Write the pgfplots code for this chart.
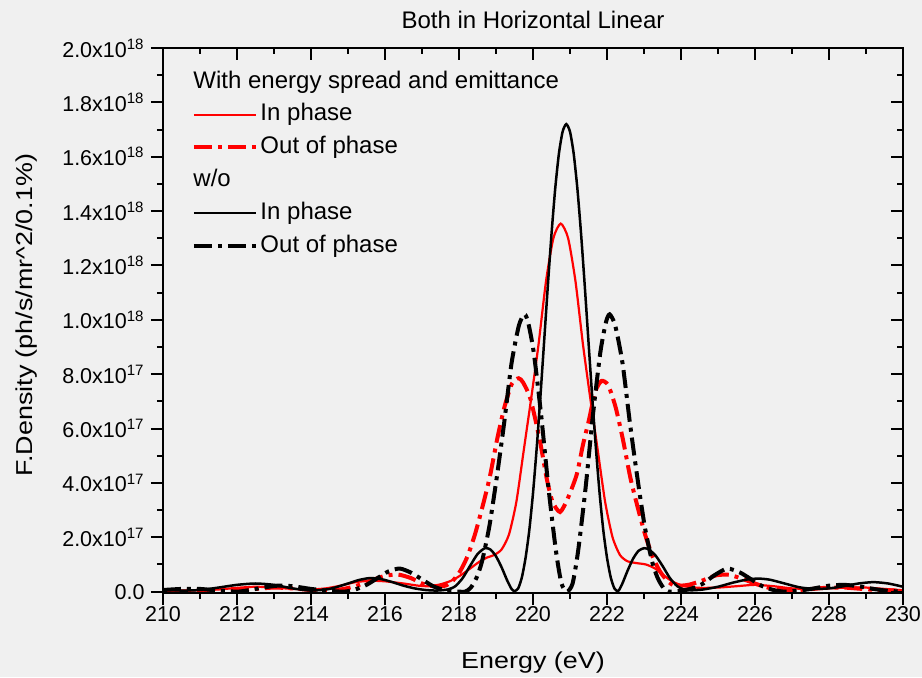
\documentclass[border=0pt]{standalone}
\usepackage{pgfplots}
\pgfplotsset{compat=1.18}
\usepackage{fontspec}
\setmainfont{Liberation Sans}
\definecolor{bggray}{RGB}{240,240,240}
\definecolor{pred}{RGB}{255,0,0}
\begin{document}
\begin{tikzpicture}
\fill[bggray] (-81.5pt,-42pt) rectangle (379.5pt,296.5pt);
\pgfplotsset{
  common/.style={
    at={(0,0)}, anchor=south west,
    scale only axis, width=370pt, height=272.5pt,
    xmin=210, xmax=230, ymin=-0.005, ymax=2.0,
    xtick={210,212,214,216,218,220,222,224,226,228,230},
    ytick={0,0.2,0.4,0.6,0.8,1.0,1.2,1.4,1.6,1.8,2.0},
    minor x tick num=1, minor y tick num=1,
    major tick length=6pt, minor tick length=3pt,
    axis line style={line width=1pt, black},
    every tick/.style={line width=1pt, black},
    clip=true,
  }
}
\begin{axis}[common,
  xtick pos=bottom, ytick pos=left, tick align=outside,
  /pgf/number format/assume math mode=true,
  ticklabel style={font=\fontsize{10.75}{12}\selectfont},
  xticklabel style={inner sep=0pt, yshift=-0.5pt},
  yticklabel style={inner xsep=3pt},
  yticklabels={0.0, 2.0x10\textsuperscript{17}, 4.0x10\textsuperscript{17}, 6.0x10\textsuperscript{17}, 8.0x10\textsuperscript{17}, 1.0x10\textsuperscript{18}, 1.2x10\textsuperscript{18}, 1.4x10\textsuperscript{18}, 1.6x10\textsuperscript{18}, 1.8x10\textsuperscript{18}, 2.0x10\textsuperscript{18}},
  title={Both in Horizontal Linear},
  title style={font=\fontsize{12}{14}\selectfont, at={(axis description cs:0.5,1.0367)}, anchor=base, yshift=-6pt},
  xlabel={\scalebox{1.17}[1]{Energy (eV)}},
  xlabel style={font=\fontsize{11.5}{14}\selectfont, at={(axis description cs:0.5,-0.1376)}, anchor=base},
  ylabel={\scalebox{1.17}[1]{F.Density (ph/s/mr\textasciicircum 2/0.1\%)}},
  ylabel style={font=\fontsize{11.5}{14}\selectfont, at={(axis description cs:-0.177,0.51)}, anchor=base},
  legend style={at={(rel axis cs:0,1)}, anchor=north west, xshift=14.5pt, yshift=-11.3pt,
    draw=none, fill=none, inner sep=0pt, outer sep=0pt,
    font=\fontsize{12}{14}\selectfont,
    nodes={inner ysep=0pt, inner xsep=1.25pt, text height=8.7pt, text depth=2.5pt},
    row sep=5.2pt},
  legend cell align=left,
  legend image code/.code={\draw[#1] (0pt,0pt) -- (31pt,0pt);},
]
\addlegendimage{empty legend}
\addlegendentry{\makebox[0pt][l]{\hspace*{-33.5pt}With energy spread and emittance}}

\addplot[pred, line width=1.1pt, smooth, tension=0.4] coordinates {
(210.0,0.004) (210.5,0.004) (211.0,0.005) (211.5,0.008) (212.0,0.014) (212.5,0.018) (213.0,0.015) (213.5,0.01) (214.0,0.008) (214.4,0.012) (214.8,0.022) (215.2,0.035) (215.6,0.04) (216.0,0.038) (216.5,0.03) (216.9,0.022) (217.2,0.02) (217.5,0.027) (217.75,0.038) (217.95,0.052) (218.15,0.07) (218.35,0.09) (218.55,0.11) (218.75,0.125) (218.95,0.135) (219.15,0.155) (219.35,0.21) (219.55,0.33) (219.75,0.52) (219.95,0.71) (220.15,0.91) (220.35,1.14) (220.55,1.30) (220.75,1.354) (220.95,1.30) (221.15,1.14) (221.35,0.91) (221.55,0.71) (221.75,0.52) (221.95,0.33) (222.15,0.2) (222.35,0.135) (222.55,0.112) (222.8,0.105) (223.05,0.10) (223.3,0.085) (223.55,0.058) (223.8,0.035) (224.1,0.02) (224.5,0.014) (225.0,0.015) (225.5,0.02) (226.0,0.025) (226.5,0.02) (227.0,0.012) (227.5,0.01) (228.0,0.012) (228.5,0.015) (229.0,0.015) (229.5,0.01) (230.0,0.005)
};
\addlegendentry{In phase}

\addplot[pred, line width=2pt, dash pattern=on 9pt off 3pt on 2pt off 3pt, smooth, tension=0.4] coordinates {
(210.0,0.003) (210.5,0.005) (211.0,0.006) (211.5,0.004) (212.0,0.005) (212.5,0.01) (213.0,0.015) (213.5,0.012) (214.0,0.006) (214.4,0.004) (214.8,0.008) (215.2,0.02) (215.6,0.04) (216.0,0.058) (216.35,0.063) (216.7,0.05) (217.0,0.03) (217.3,0.02) (217.63,0.022) (217.83,0.04) (218.03,0.075) (218.23,0.13) (218.43,0.21) (218.63,0.31) (218.83,0.42) (219.03,0.56) (219.23,0.68) (219.43,0.765) (219.61,0.785) (219.73,0.77) (219.93,0.71) (220.18,0.56) (220.38,0.41) (220.53,0.33) (220.73,0.293) (220.93,0.34) (221.18,0.43) (221.35,0.54) (221.51,0.63) (221.68,0.735) (221.85,0.775) (222.03,0.76) (222.23,0.68) (222.43,0.56) (222.63,0.42) (222.83,0.31) (223.03,0.21) (223.23,0.13) (223.43,0.075) (223.63,0.04) (223.83,0.022) (224.2,0.025) (224.6,0.042) (224.95,0.06) (225.3,0.062) (225.7,0.045) (226.1,0.025) (226.5,0.01) (226.9,0.005) (227.4,0.008) (227.9,0.014) (228.4,0.015) (228.9,0.01) (229.4,0.005) (230.0,0.004)
};
\addlegendentry{Out of phase}

\addlegendimage{empty legend}
\addlegendentry{\makebox[0pt][l]{\hspace*{-33.5pt}w/o}}

\addplot[black, line width=1.25pt, smooth, tension=0.4] coordinates {
(210.0,0.008) (210.5,0.004) (211.0,0.006) (211.5,0.015) (212.0,0.025) (212.5,0.03) (213.0,0.025) (213.5,0.012) (214.0,0.004) (214.5,0.01) (215.0,0.03) (215.3,0.043) (215.6,0.05) (215.9,0.046) (216.2,0.035) (216.5,0.022) (216.8,0.012) (217.1,0.006) (217.4,0.004) (217.7,0.008) (217.9,0.02) (218.1,0.05) (218.3,0.095) (218.5,0.138) (218.7,0.16) (218.85,0.155) (219.0,0.13) (219.15,0.09) (219.3,0.042) (219.42,0.01) (219.5,0.002) (219.6,0.012) (219.7,0.053) (219.8,0.125) (219.9,0.226) (220.0,0.362) (220.1,0.528) (220.2,0.717) (220.3,0.919) (220.4,1.123) (220.5,1.315) (220.6,1.482) (220.7,1.611) (220.8,1.692) (220.9,1.72) (221.0,1.692) (221.1,1.611) (221.2,1.482) (221.3,1.315) (221.4,1.123) (221.5,0.919) (221.6,0.717) (221.7,0.528) (221.8,0.362) (221.9,0.226) (222.0,0.125) (222.1,0.053) (222.2,0.012) (222.3,0.002) (222.4,0.025) (222.55,0.075) (222.7,0.12) (222.85,0.15) (223.0,0.16) (223.1,0.158) (223.3,0.135) (223.5,0.095) (223.7,0.05) (223.9,0.02) (224.1,0.007) (224.3,0.005) (224.6,0.008) (225.0,0.018) (225.4,0.033) (225.8,0.045) (226.1,0.048) (226.4,0.044) (226.8,0.03) (227.2,0.016) (227.6,0.01) (228.0,0.012) (228.4,0.02) (228.8,0.03) (229.2,0.035) (229.6,0.03) (230.0,0.018)
};
\addlegendentry{In phase}

\addplot[black, line width=2pt, dash pattern=on 9pt off 3pt on 2pt off 3pt, smooth, tension=0.4] coordinates {
(210.0,0.006) (210.5,0.01) (211.0,0.01) (211.5,0.004) (212.0,0.0) (212.3,0.005) (212.7,0.015) (213.1,0.022) (213.5,0.02) (214.0,0.01) (214.5,0.003) (214.9,0.0) (215.2,0.008) (215.5,0.025) (215.8,0.05) (216.1,0.075) (216.4,0.085) (216.7,0.07) (217.0,0.045) (217.3,0.02) (217.6,0.006) (217.9,0.001) (218.17,0.0) (218.32,0.015) (218.47,0.05) (218.62,0.11) (218.82,0.24) (219.02,0.42) (219.22,0.62) (219.42,0.84) (219.62,0.98) (219.77,1.02) (219.87,0.99) (220.02,0.88) (220.22,0.65) (220.42,0.38) (220.62,0.15) (220.77,0.03) (220.92,0.0) (221.07,0.03) (221.22,0.15) (221.42,0.38) (221.62,0.65) (221.82,0.88) (221.97,0.99) (222.07,1.02) (222.22,0.98) (222.42,0.84) (222.62,0.62) (222.82,0.42) (223.02,0.24) (223.22,0.11) (223.37,0.05) (223.52,0.015) (223.67,0.0) (224.0,0.003) (224.3,0.012) (224.6,0.03) (224.9,0.06) (225.25,0.085) (225.6,0.07) (225.9,0.045) (226.2,0.02) (226.5,0.006) (226.8,0.0) (227.2,0.004) (227.6,0.012) (228.0,0.022) (228.4,0.025) (228.8,0.02) (229.2,0.01) (229.6,0.003) (230.0,0.0)
};
\addlegendentry{Out of phase}
\end{axis}
\begin{axis}[common,
  xtick pos=top, ytick pos=right, tick align=inside,
  xticklabels={}, yticklabels={},
]
\end{axis}
\pgfresetboundingbox
\path[use as bounding box] (-81.5pt,-42pt) rectangle (379.5pt,296.5pt);
\end{tikzpicture}
\end{document}
